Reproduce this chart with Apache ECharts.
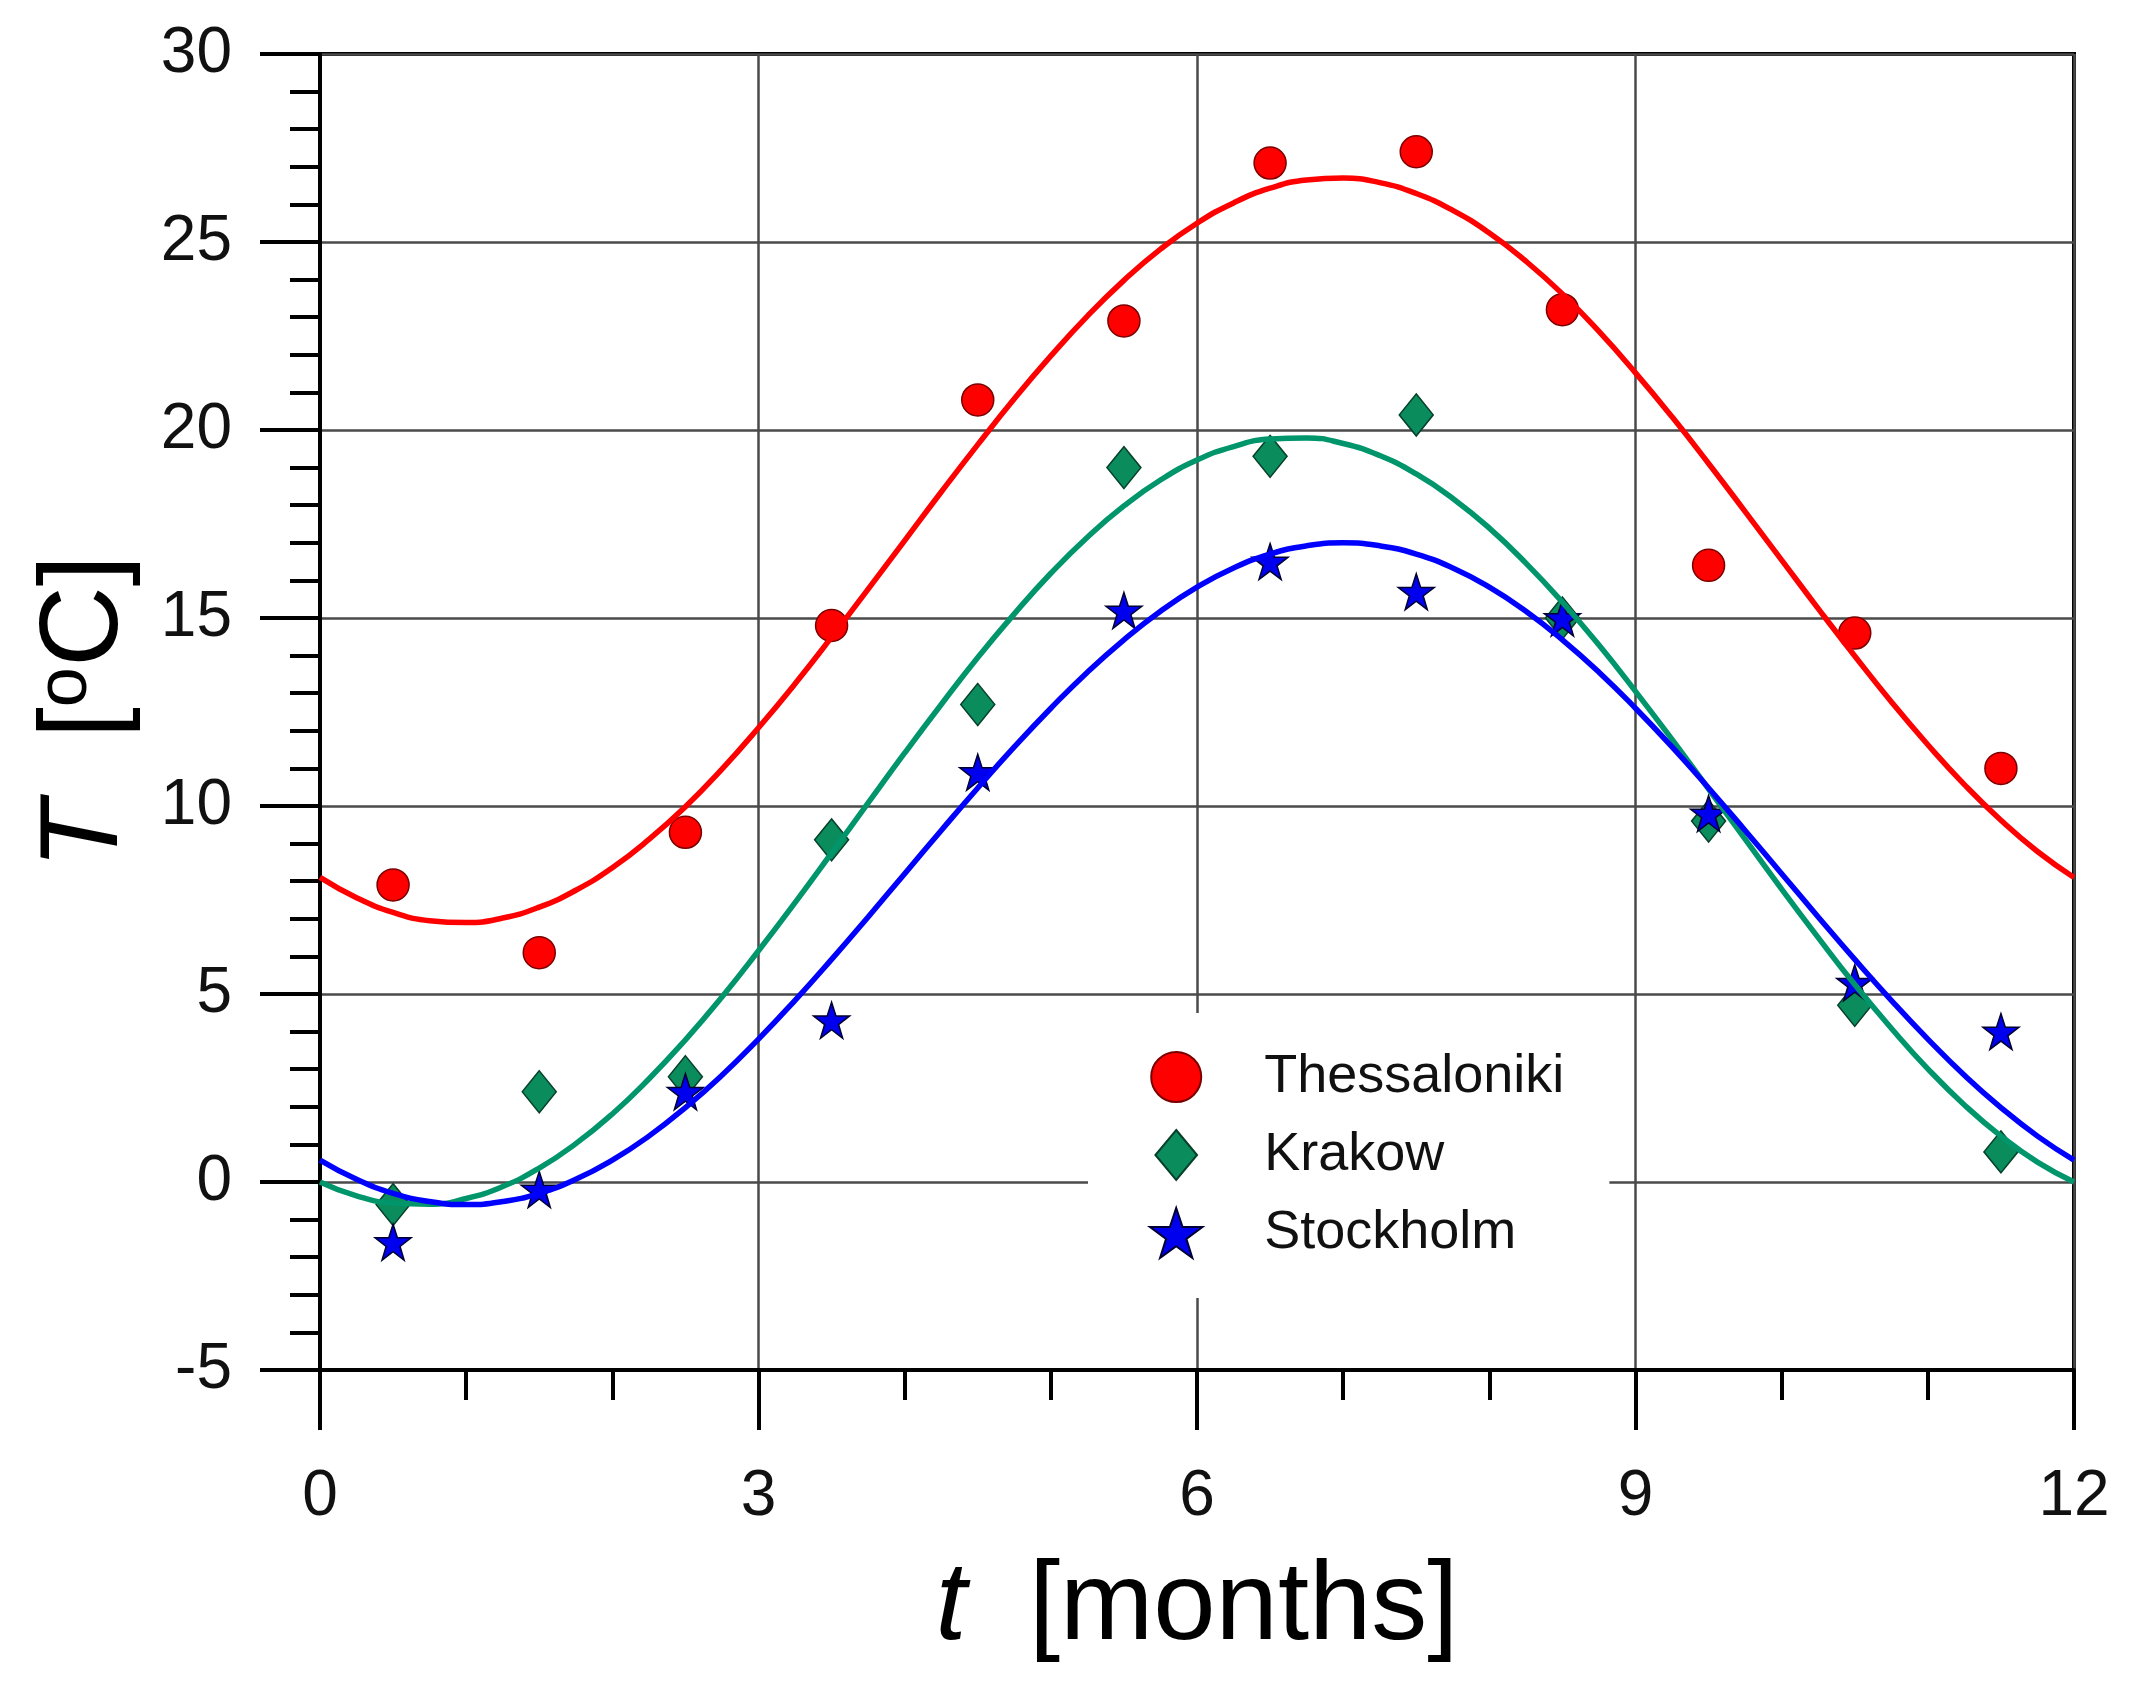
<!DOCTYPE html>
<html>
<head>
<meta charset="utf-8">
<title>Monthly temperatures</title>
<script src="https://cdn.jsdelivr.net/npm/echarts@6.0.0/dist/echarts.min.js"></script>
<style>
  html, body { margin: 0; padding: 0; background: #fff; }
  #chart { width: 2133px; height: 1703px; }
</style>
</head>
<body>
<div id="chart"></div>
<script>
  // measured monthly means (mid-month)
  const months = [0.5, 1.5, 2.5, 3.5, 4.5, 5.5, 6.5, 7.5, 8.5, 9.5, 10.5, 11.5];
  const thessaloniki = [7.9, 6.1, 9.3, 14.8, 20.8, 22.9, 27.1, 27.4, 23.2, 16.4, 14.6, 11.0];
  const krakow = [-0.6, 2.4, 2.8, 9.1, 12.7, 19.0, 19.3, 20.4, 15.0, 9.6, 4.7, 0.8];
  const stockholm = [-1.6, -0.2, 2.4, 4.3, 10.9, 15.2, 16.5, 15.7, 15.0, 9.8, 5.3, 4.0];

  // fitted curves, every quarter month
  const fitT = [0, 0.25, 0.5, 0.75, 1, 1.25, 1.5, 1.75, 2, 2.25, 2.5, 2.75, 3, 3.25, 3.5, 3.75,
    4, 4.25, 4.5, 4.75, 5, 5.25, 5.5, 5.75, 6, 6.25, 6.5, 6.75, 7, 7.25, 7.5, 7.75,
    8, 8.25, 8.5, 8.75, 9, 9.25, 9.5, 9.75, 10, 10.25, 10.5, 10.75, 11, 11.25, 11.5, 11.75, 12];
  const fitThessaloniki = [8.10, 7.56, 7.17, 6.95, 6.90, 7.02, 7.31, 7.76, 8.36, 9.11, 9.98, 10.98, 12.08, 13.25, 14.49, 15.77,
    17.06, 18.35, 19.61, 20.83, 21.97, 23.03, 23.98, 24.81, 25.50, 26.04, 26.43, 26.65, 26.70, 26.58, 26.29, 25.84,
    25.24, 24.49, 23.62, 22.62, 21.52, 20.35, 19.11, 17.83, 16.54, 15.25, 13.99, 12.77, 11.63, 10.57, 9.62, 8.79, 8.10];
  const fitKrakow = [0.00, -0.37, -0.56, -0.59, -0.44, -0.12, 0.37, 1.02, 1.81, 2.74, 3.78, 4.92, 6.15, 7.43, 8.75, 10.08,
    11.41, 12.70, 13.95, 15.11, 16.19, 17.15, 17.98, 18.67, 19.20, 19.56, 19.76, 19.79, 19.64, 19.32, 18.83, 18.18,
    17.39, 16.46, 15.42, 14.28, 13.05, 11.77, 10.45, 9.12, 7.79, 6.50, 5.25, 4.09, 3.01, 2.05, 1.22, 0.53, 0.00];
  const fitStockholm = [0.58, 0.07, -0.30, -0.52, -0.60, -0.52, -0.30, 0.07, 0.58, 1.22, 1.98, 2.84, 3.80, 4.83, 5.92, 7.05,
    8.20, 9.35, 10.48, 11.57, 12.60, 13.56, 14.42, 15.18, 15.82, 16.33, 16.70, 16.92, 17.00, 16.92, 16.70, 16.33,
    15.82, 15.18, 14.42, 13.56, 12.60, 11.57, 10.48, 9.35, 8.20, 7.05, 5.92, 4.83, 3.80, 2.84, 1.98, 1.22, 0.58];

  const xTicks = [0, 3, 6, 9, 12];
  const yTicks = [-5, 0, 5, 10, 15, 20, 25, 30];

  const font = '"Liberation Sans", Arial, sans-serif';
  const star = 'path://M50,0 L61.8,35.3 L98.6,35.3 L68.8,57.3 L79.9,92.7 L50,70.7 L20.1,92.7 L31.2,57.3 L1.4,35.3 L38.2,35.3 Z';
  const diamond = 'path://M50,0 L100,60 L50,120 L0,60 Z';

  const pair = (xs, ys) => xs.map((x, i) => [x, ys[i]]);

  const chart = echarts.init(document.getElementById('chart'), null, { renderer: 'canvas' });

  const option = {
    backgroundColor: '#fff',
    animation: false,
    textStyle: { fontFamily: font },
    grid: {
      left: 320,
      right: 59,
      top: 54,
      bottom: 333,
      show: true,
      borderColor: '#000',
      borderWidth: 4
    },
    legend: {
      data: ['Thessaloniki', 'Krakow', 'Stockholm'],
      orient: 'vertical',
      left: 1088,
      top: 1013,
      // icons are centred in a wide item box, so the box's empty left part is trimmed by echarts
      padding: [37, 45, 38, 61],
      backgroundColor: '#fff',
      itemWidth: 166,
      itemHeight: 50,
      itemGap: 24,
      symbolKeepAspect: true,
      textStyle: { fontFamily: font, fontSize: 54, lineHeight: 54, color: '#111' },
      z: 10
    },
    xAxis: {
      type: 'value',
      min: xTicks[0],
      max: xTicks[xTicks.length - 1],
      interval: 3,
      name: '{it|t}{n|  [months]}',
      nameLocation: 'middle',
      nameGap: 182,
      nameTextStyle: {
        color: '#000',
        rich: {
          it: { fontFamily: font, fontSize: 112, fontStyle: 'italic', color: '#000' },
          n: { fontFamily: font, fontSize: 112, color: '#000' }
        }
      },
      axisLine: { onZero: false, lineStyle: { color: '#000', width: 4 } },
      axisTick: { inside: false, length: 60, lineStyle: { color: '#000', width: 4 } },
      minorTick: { show: true, splitNumber: 3, length: 30, lineStyle: { color: '#000', width: 4 } },
      axisLabel: { margin: 95, fontSize: 64, color: '#111', fontFamily: font },
      splitLine: { show: true, lineStyle: { color: '#4a4a4a', width: 2.5 } }
    },
    yAxis: {
      type: 'value',
      min: yTicks[0],
      max: yTicks[yTicks.length - 1],
      interval: 5,
      name: '{it|T}{n|  [}{sup|o}{n|C]}',
      nameLocation: 'middle',
      nameGap: 178,
      nameTextStyle: {
        color: '#000',
        rich: {
          it: { fontFamily: font, fontSize: 112, fontStyle: 'italic', color: '#000' },
          n: { fontFamily: font, fontSize: 112, color: '#000' },
          sup: { fontFamily: font, fontSize: 72, color: '#000', verticalAlign: 'top' }
        }
      },
      axisLine: { onZero: false, lineStyle: { color: '#000', width: 4 } },
      axisTick: { inside: false, length: 60, lineStyle: { color: '#000', width: 4 } },
      minorTick: { show: true, splitNumber: 5, length: 30, lineStyle: { color: '#000', width: 4 } },
      axisLabel: { margin: 88, fontSize: 64, color: '#111', fontFamily: font },
      splitLine: { show: true, lineStyle: { color: '#4a4a4a', width: 2.5 } }
    },
    series: [
      {
        name: 'Thessaloniki',
        type: 'scatter',
        symbol: 'circle',
        symbolSize: 32,
        itemStyle: { color: '#ff0000', borderColor: '#7a0000', borderWidth: 1.5, opacity: 1 },
        data: pair(months, thessaloniki),
        z: 3
      },
      {
        name: 'Krakow',
        type: 'scatter',
        symbol: diamond,
        symbolSize: [34, 42],
        itemStyle: { color: '#0a8c5c', borderColor: '#06402a', borderWidth: 1.5, opacity: 1 },
        data: pair(months, krakow),
        z: 3
      },
      {
        name: 'Stockholm',
        type: 'scatter',
        symbol: star,
        symbolSize: 36,
        itemStyle: { color: '#0000ee', borderColor: '#000033', borderWidth: 1.5, opacity: 1 },
        data: pair(months, stockholm),
        z: 3
      },
      {
        name: 'Thessaloniki fit',
        type: 'line',
        smooth: true,
        showSymbol: false,
        lineStyle: { color: '#ff0000', width: 5.5 },
        data: pair(fitT, fitThessaloniki),
        z: 4
      },
      {
        name: 'Krakow fit',
        type: 'line',
        smooth: true,
        showSymbol: false,
        lineStyle: { color: '#00956a', width: 5.5 },
        data: pair(fitT, fitKrakow),
        z: 4
      },
      {
        name: 'Stockholm fit',
        type: 'line',
        smooth: true,
        showSymbol: false,
        lineStyle: { color: '#0000ff', width: 5.5 },
        data: pair(fitT, fitStockholm),
        z: 4
      }
    ]
  };

  chart.setOption(option);
</script>
</body>
</html>
